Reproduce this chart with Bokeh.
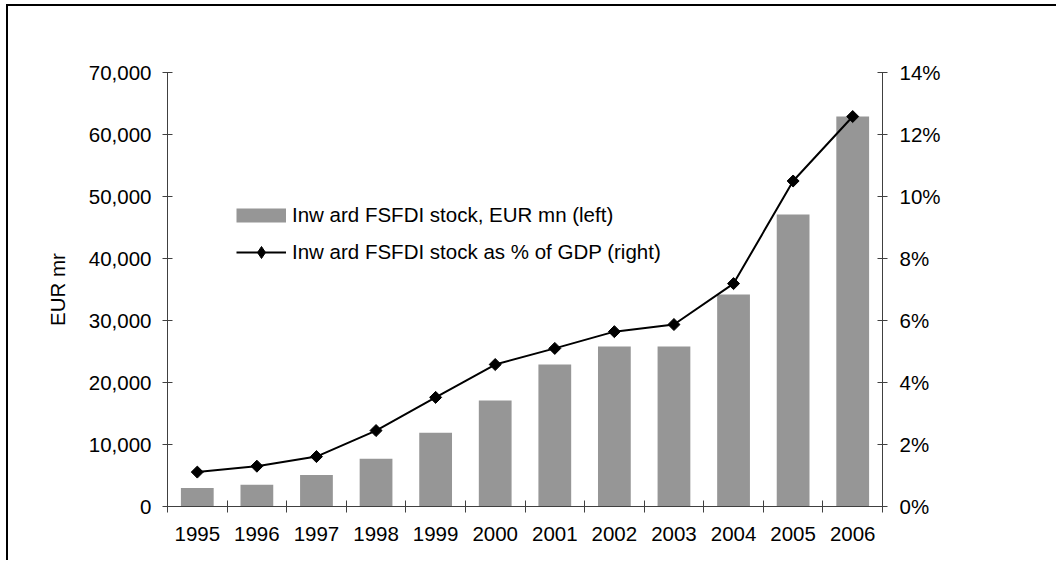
import math
from bokeh.plotting import figure
from bokeh.models import (Range1d, LinearAxis, FixedTicker, NumeralTickFormatter,
                          PrintfTickFormatter, Legend, LegendItem, ColumnDataSource,
                          CustomJSTickFormatter)
from bokeh.embed import file_html
from bokeh.resources import INLINE

years = [1995, 1996, 1997, 1998, 1999, 2000, 2001, 2002, 2003, 2004, 2005, 2006]
stock_eur_mn = [3000, 3500, 5100, 7700, 11900, 17100, 22900, 25800, 25800, 34200, 47100, 62900]
pct_gdp = [1.11, 1.30, 1.61, 2.45, 3.52, 4.58, 5.10, 5.64, 5.87, 7.19, 10.5, 12.58]
left_ticks = [0, 10000, 20000, 30000, 40000, 50000, 60000, 70000]
right_ticks = [0, 2, 4, 6, 8, 10, 12, 14]

FONT = "Liberation Sans"
FS = "20.5px"
AX = "#404040"
BAR = "#969696"

xs = [i + 0.5 for i in range(len(years))]
src = ColumnDataSource(dict(x=xs, stock=stock_eur_mn, pct=pct_gdp))

p = figure(width=1050, height=556, output_backend="svg", toolbar_location=None,
           x_range=Range1d(0, len(years)), y_range=Range1d(0, 70000),
           min_border_left=159, min_border_right=176, min_border_top=66, min_border_bottom=56)
p.styles = {"margin-left": "6px", "margin-top": "4px",
            "border-left": "2px solid #000", "border-top": "2px solid #000"}
p.outline_line_color = None
p.xgrid.grid_line_color = None
p.ygrid.grid_line_color = None
p.background_fill_color = "white"
p.border_fill_color = "white"

# "pct" = right axis; "offscreen" is used only so legend swatches stay out of view
p.extra_y_ranges = {"pct": Range1d(0, 14), "offscreen": Range1d(1e9, 1e9 + 1)}

bars = p.vbar(x="x", top="stock", width=0.55, source=src, fill_color=BAR, line_color=None)
line = p.line(x="x", y="pct", source=src, y_range_name="pct", line_color="black", line_width=2)
marks = p.scatter(x="x", y="pct", source=src, y_range_name="pct", marker="square",
                  angle=math.pi / 4, size=8.5, fill_color="black", line_color="black")

# legend-only proxies (drawn far outside the visible range)
leg_bar = p.line(x="x", y="pct", source=src, y_range_name="offscreen",
                 line_color=BAR, line_width=14, line_cap="butt")
leg_line = p.line(x="x", y="pct", source=src, y_range_name="offscreen",
                  line_color="black", line_width=2)
leg_mark = p.scatter(x="x", y="pct", source=src, y_range_name="offscreen", marker="diamond",
                     fill_color="black", line_color="black")

xa = p.xaxis[0]
xa.ticker = FixedTicker(ticks=xs, minor_ticks=list(range(len(years) + 1)))
xa.formatter = CustomJSTickFormatter(args=dict(years=years),
                                     code="return String(years[Math.floor(tick)]);")
xa.major_tick_line_color = None
xa.minor_tick_line_color = AX
xa.minor_tick_in = 6
xa.minor_tick_out = 6
xa.axis_line_color = AX
xa.major_label_text_font = FONT
xa.major_label_text_font_size = FS
xa.major_label_text_color = "black"
xa.major_label_standoff = 14

ya = p.yaxis[0]
ya.ticker = FixedTicker(ticks=left_ticks)
ya.formatter = NumeralTickFormatter(format="0,0")
ya.major_tick_in = 5
ya.major_tick_out = 5
ya.major_tick_line_color = AX
ya.minor_tick_line_color = None
ya.axis_line_color = AX
ya.major_label_text_font = FONT
ya.major_label_text_font_size = FS
ya.major_label_text_color = "black"
ya.major_label_standoff = 11
ya.axis_label = "EUR mr"
ya.axis_label_text_font = FONT
ya.axis_label_text_font_size = FS
ya.axis_label_text_font_style = "normal"
ya.axis_label_text_color = "black"
ya.axis_label_standoff = 17

ra = LinearAxis(y_range_name="pct", ticker=FixedTicker(ticks=right_ticks),
                formatter=PrintfTickFormatter(format="%d%%"))
ra.major_tick_in = 5
ra.major_tick_out = 5
ra.major_tick_line_color = AX
ra.minor_tick_line_color = None
ra.axis_line_color = AX
ra.major_label_text_font = FONT
ra.major_label_text_font_size = FS
ra.major_label_text_color = "black"
ra.major_label_standoff = 12
p.add_layout(ra, "right")

legend = Legend(items=[
    LegendItem(label="Inw ard FSFDI stock, EUR mn (left)", renderers=[leg_bar]),
    LegendItem(label="Inw ard FSFDI stock as % of GDP (right)", renderers=[leg_line, leg_mark]),
], location=(69, 239), glyph_width=50, glyph_height=30, label_standoff=6,
    label_text_font=FONT, label_text_font_size=FS, label_text_color="black",
    padding=0, margin=0, spacing=7, border_line_color=None, background_fill_alpha=0)
p.add_layout(legend)

open("out.html", "w").write(file_html(p, INLINE))
